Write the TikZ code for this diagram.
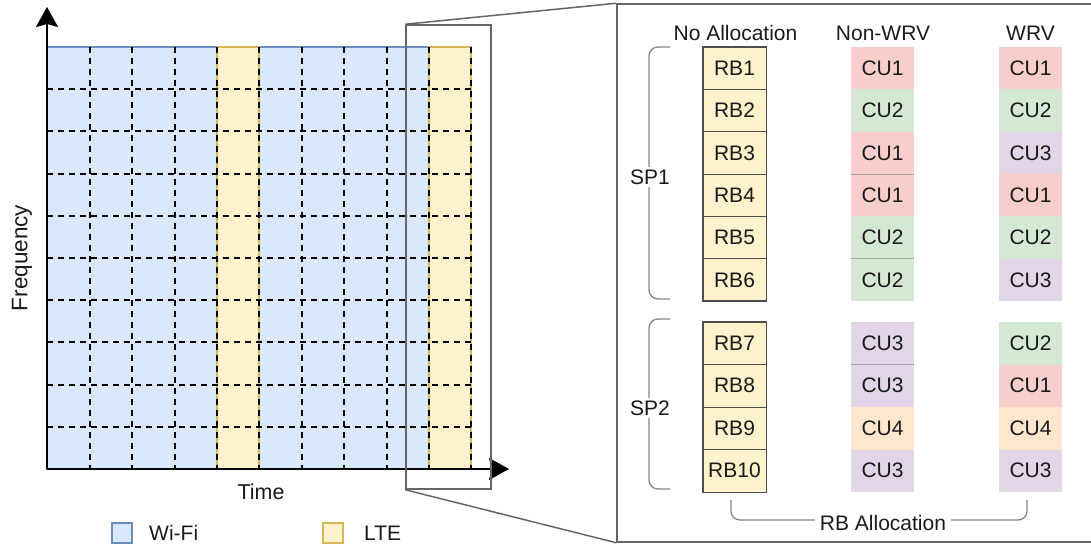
\documentclass[tikz,border=0pt]{standalone}
\usepackage{fontspec}
\setmainfont{Liberation Sans}
\usetikzlibrary{arrows.meta}

\definecolor{wifiFill}{HTML}{DAE8FC}
\definecolor{wifiLine}{HTML}{6C8EBF}
\definecolor{lteFill}{HTML}{FFF2CC}
\definecolor{lteLine}{HTML}{D6B656}
\definecolor{cu1}{HTML}{F8CECC}
\definecolor{cu2}{HTML}{D5E8D4}
\definecolor{cu3}{HTML}{E1D5E7}
\definecolor{cu4}{HTML}{FFE6CC}
\definecolor{frameGray}{HTML}{666666}
\definecolor{braceGray}{HTML}{858585}
\definecolor{rbLine}{HTML}{4D4D4D}
\definecolor{inkText}{HTML}{1A1A1A}

\tikzset{
  label/.style={font=\fontsize{21}{25}\selectfont, text=inkText, inner sep=1pt},
  gridline/.style={black, line width=2pt, dash pattern=on 6pt off 5pt},
  axisline/.style={black, line width=2pt, -{Stealth[length=20pt,width=22pt,inset=3pt]}},
  framebox/.style={draw=frameGray, line width=1.5pt},
  zoomline/.style={frameGray, line width=1.5pt},
  rbcell/.style={draw=rbLine, line width=0.8pt, fill=lteFill, minimum width=63pt,
    minimum height=42.3pt, inner sep=0pt, font=\fontsize{21}{25}\selectfont, text=inkText},
  cucell/.style={minimum width=63pt, minimum height=42.3pt, inner sep=0pt,
    font=\fontsize{21}{25}\selectfont, text=inkText},
  cusep/.style={draw=gray!70, line width=1pt},
  brace/.style={braceGray, line width=1.3pt, rounded corners=9pt},
  bracelabel/.style={label, fill=white, inner xsep=5pt, inner ysep=3pt},
  legendkey/.style={minimum size=20pt, inner sep=0pt, line width=1.8pt},
}

\begin{document}
\begin{tikzpicture}[x=1pt, y=-1pt]
\useasboundingbox (0,0) rectangle (1091,545);

% ---------- time-frequency grid ----------
\filldraw[fill=wifiFill, draw=wifiLine, line width=1.2pt] (47,47) rectangle (471,469);
\filldraw[fill=lteFill, draw=lteLine, line width=1.2pt] (217,47) rectangle (259,469);
\filldraw[fill=lteFill, draw=lteLine, line width=1.2pt] (429,47) rectangle (471,469);

\foreach \gx in {90,132,175,217,259,302,344,387,429,471}
  \draw[gridline] (\gx,47) -- (\gx,469);
\foreach \gy in {89,131,174,216,258,300,342,385,427}
  \draw[gridline] (47,\gy) -- (471,\gy);

% axes
\coordinate (origin) at (47,469);
\coordinate (ytip) at (47,7);
\coordinate (xtip) at (509,469);
\draw[axisline] (origin) -- (ytip);
\draw[axisline] (origin) -- (xtip);

\node[label, font=\fontsize{22.5}{26}\selectfont, rotate=90] (freq) at (22,258) {Frequency};
\node[label, font=\fontsize{21.5}{25}\selectfont] (time) at (261,492) {Time};

% legend
\node[legendkey, fill=wifiFill, draw=wifiLine] (wifikey) at (122,533) {};
\node[label, anchor=west] (wifitext) at (148,533) {Wi-Fi};
\node[legendkey, fill=lteFill, draw=lteLine] (ltekey) at (333,533) {};
\node[label, anchor=west] (ltetext) at (363,533) {LTE};

% ---------- magnified view ----------
\node[framebox, minimum width=85pt, minimum height=464pt, inner sep=0pt] (lens) at (448.5,257) {};
\node[framebox, minimum width=478pt, minimum height=538pt, inner sep=0pt] (panel) at (856,273) {};
\draw[zoomline] (lens.north west) -- (panel.north west);
\draw[zoomline] (lens.south west) -- (panel.south west);

% column headers
\node[label] (hnone) at (735.5,33) {No Allocation};
\node[label] (hnon) at (883,33) {Non-WRV};
\node[label] (hwrv) at (1030.5,33) {WRV};

% first sub-period: RB1 -- RB6
\foreach \i/\a/\b in {1/1/1, 2/2/2, 3/1/3, 4/1/1, 5/2/2, 6/2/3} {
  \pgfmathsetmacro\yy{47+42.33*(\i-0.5)}
  \node[rbcell] (rb\i) at (734.5,\yy) {RB\i};
  \node[cucell, fill=cu\a] (nw\i) at (882.5,\yy) {CU\a};
  \node[cucell, fill=cu\b] (w\i) at (1030.5,\yy) {CU\b};
}
% second sub-period: RB7 -- RB10
\foreach \i/\a/\b [count=\j] in {7/3/2, 8/3/1, 9/4/4, 10/3/3} {
  \pgfmathsetmacro\yy{322+42.5*(\j-0.5)}
  \node[rbcell, minimum height=42.5pt] (rb\i) at (734.5,\yy) {RB\i};
  \node[cucell, minimum height=42.5pt, fill=cu\a] (nw\i) at (882.5,\yy) {CU\a};
  \node[cucell, minimum height=42.5pt, fill=cu\b] (w\i) at (1030.5,\yy) {CU\b};
}

% heavier outline around each resource-block stack
\draw[draw=rbLine, line width=1.8pt] (rb1.north west) rectangle (rb6.south east);
\draw[draw=rbLine, line width=1.8pt] (rb7.north west) rectangle (rb10.south east);

% thin separators between equal neighbouring users
\draw[cusep] (nw3.south west) -- (nw3.south east);
\draw[cusep] (nw5.south west) -- (nw5.south east);
\draw[cusep] (nw7.south west) -- (nw7.south east);

% braces
\draw[brace] (670,47) -- (649,47) -- (649,299) -- (670,299);
\node[bracelabel] (sp1) at (650,177) {SP1};
\draw[brace] (670,319) -- (649,319) -- (649,489) -- (670,489);
\node[bracelabel] (sp2) at (650,408) {SP2};
\draw[brace] (731,500) -- (731,520) -- (1027,520) -- (1027,500);
\node[bracelabel] (rballoc) at (883,523) {RB Allocation};
\end{tikzpicture}
\end{document}
